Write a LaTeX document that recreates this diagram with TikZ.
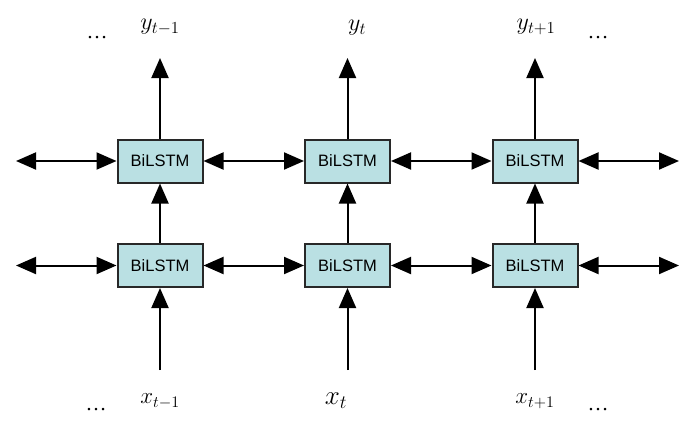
\RequirePackage{fix-cm}
\documentclass[tikz,border=0pt]{standalone}
\usepackage{fontspec}
\setsansfont{Liberation Sans}
\newfontfamily\dotfont{Liberation Serif}
\usetikzlibrary{arrows.meta}
\definecolor{boxfill}{RGB}{186,224,227}
\definecolor{boxline}{RGB}{40,40,40}
\tikzset{
  cell/.style={draw=boxline, line width=2pt, fill=boxfill, minimum width=85pt, minimum height=43pt, inner sep=0pt, font=\sffamily\fontsize{16.5}{19}\selectfont},
  conn/.style={line width=2pt, -{Triangle[length=20pt,width=17pt]}},
  biconn/.style={line width=2pt, {Triangle[length=20pt,width=17pt]}-{Triangle[length=20pt,width=17pt]}},
  lab/.style={inner sep=0pt, font=\fontsize{24}{28}\selectfont},
  ellip/.style={inner sep=0pt, font=\dotfont\fontsize{21}{25}\selectfont}
}
\begin{document}
\begin{tikzpicture}[x=1pt,y=-1pt]
\useasboundingbox (0,0) rectangle (696,431);
% boxes
\node[cell] (t1) at (160,161) {BiLSTM};
\node[cell] (t2) at (347.5,161) {BiLSTM};
\node[cell] (t3) at (535,161) {BiLSTM};
\node[cell] (b1) at (160,265.5) {BiLSTM};
\node[cell] (b2) at (347.5,265.5) {BiLSTM};
\node[cell] (b3) at (535,265.5) {BiLSTM};
% free ends
\coordinate (lt) at (16,161);
\coordinate (lb) at (16,265.5);
\coordinate (rt) at (679,161);
\coordinate (rb) at (679,265.5);
\coordinate (u1) at (160,58);
\coordinate (u2) at (347.5,58);
\coordinate (u3) at (535,58);
\coordinate (d1) at (160,370);
\coordinate (d2) at (347.5,370);
\coordinate (d3) at (535,370);
% labels
\node[lab] (y1) at (160,27) {$y_{t-1}$};
\node[lab] (y2) at (357,28) {$y_{t}$};
\node[lab] (y3) at (536,27) {$y_{t+1}$};
\node[lab, font=\fontsize{23}{27}\selectfont] (x1) at (160,401) {$x_{t-1}$};
\node[lab, font=\fontsize{27}{31}\selectfont] (x2) at (336,401) {$x_{t}$};
\node[lab, font=\fontsize{23}{27}\selectfont] (x3) at (535,401) {$x_{t+1}$};
\node[ellip] (dtl) at (97,38) {…};
\node[ellip] (dtr) at (598,38) {…};
\node[ellip] (dbl) at (96,410) {…};
\node[ellip] (dbr) at (598,410) {…};
% horizontal connectors
\draw[biconn] (lt) -- (t1.west);
\draw[biconn] (t1.east) -- (t2.west);
\draw[biconn] (t2.east) -- (t3.west);
\draw[biconn] (t3.east) -- (rt);
\draw[biconn] (lb) -- (b1.west);
\draw[biconn] (b1.east) -- (b2.west);
\draw[biconn] (b2.east) -- (b3.west);
\draw[biconn] (b3.east) -- (rb);
% vertical connectors
\foreach \i in {1,2,3}{
  \draw[conn] (d\i) -- (b\i.south);
  \draw[conn] (b\i.north) -- (t\i.south);
  \draw[conn] (t\i.north) -- (u\i);
}
\end{tikzpicture}
\end{document}
